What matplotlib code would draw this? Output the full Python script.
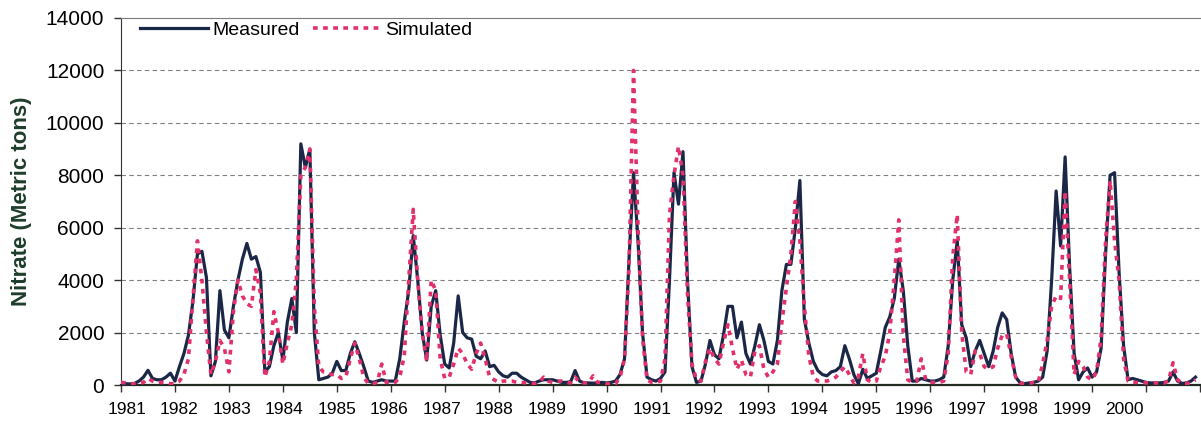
import numpy as np
import matplotlib
matplotlib.use("Agg")
import matplotlib.pyplot as plt

plt.rcParams['font.family'] = ['Liberation Sans', 'DejaVu Sans']

# monthly nitrate loads (metric tons), Jan 1981 .. Dec 2000
years = list(range(1981, 2001))
year_labels = [str(y) for y in years]

measured = [
    50, 50, 40, 60, 150, 300, 560, 250, 200, 200, 300, 450,            # 1981
    150, 700, 1200, 1900, 3200, 5000, 5100, 4100, 350, 900, 3600, 2100,  # 1982
    1800, 3000, 4000, 4800, 5400, 4800, 4900, 4300, 500, 700, 1500, 2000,  # 1983
    950, 2400, 3300, 2000, 9200, 8300, 9000, 2000, 200, 250, 300, 450,   # 1984
    900, 550, 550, 1200, 1650, 1200, 700, 150, 100, 150, 200, 150,       # 1985
    150, 150, 1000, 2400, 3600, 5700, 4000, 2000, 950, 3000, 3600, 1900,  # 1986
    800, 650, 1600, 3400, 2000, 1800, 1750, 1100, 1000, 1300, 700, 750,  # 1987
    500, 350, 300, 450, 450, 300, 200, 100, 80, 150, 200, 200,           # 1988
    200, 150, 100, 100, 120, 550, 150, 80, 80, 70, 80, 100,              # 1989
    80, 100, 150, 400, 1000, 4800, 8100, 5500, 2000, 300, 200, 150,      # 1990
    250, 500, 4000, 8100, 6900, 8900, 4000, 700, 100, 150, 800, 1700,    # 1991
    1150, 1000, 1900, 3000, 3000, 1800, 2400, 1200, 800, 1500, 2300, 1700,  # 1992
    900, 800, 1700, 3600, 4600, 4600, 6000, 7800, 2500, 1600, 900, 550,  # 1993
    400, 350, 500, 550, 700, 1500, 1000, 400, 50, 600, 250, 350,         # 1994
    450, 1300, 2200, 2600, 3300, 4800, 3600, 1500, 150, 150, 250, 200,   # 1995
    150, 150, 200, 300, 1500, 4000, 5500, 2300, 1800, 700, 1300, 1700,   # 1996
    1200, 700, 1300, 2200, 2750, 2500, 1200, 300, 80, 50, 80, 100,       # 1997
    150, 300, 1300, 4000, 7400, 5300, 8700, 4500, 1200, 200, 500, 650,   # 1998
    300, 500, 1400, 5000, 8000, 8100, 4300, 1500, 200, 250, 200, 150,    # 1999
    100, 80, 80, 80, 100, 150, 500, 150, 60, 80, 150, 300,               # 2000
]

simulated = [
    100, 80, 50, 50, 60, 100, 250, 150, 100, 100, 80, 50,                # 1981
    50, 150, 400, 1000, 3300, 5500, 4000, 2000, 400, 900, 1700, 1400,    # 1982
    500, 2800, 4000, 3400, 3100, 3000, 4400, 3500, 300, 900, 2800, 2000,  # 1983
    800, 1600, 2300, 4000, 8000, 8300, 9000, 3000, 700, 500, 450, 400,   # 1984
    400, 250, 300, 1000, 1600, 1000, 300, 50, 50, 100, 800, 100,         # 1985
    100, 100, 300, 1100, 4000, 6700, 4000, 2000, 900, 4000, 3600, 1000,  # 1986
    250, 300, 800, 1400, 1200, 800, 600, 1200, 1600, 1000, 300, 200,     # 1987
    100, 150, 150, 150, 100, 100, 80, 60, 60, 100, 300, 150,             # 1988
    100, 150, 150, 100, 80, 300, 100, 80, 80, 350, 100, 100,             # 1989
    50, 50, 50, 300, 1000, 4500, 12000, 6000, 1800, 200, 100, 100,       # 1990
    150, 1000, 6500, 8000, 9100, 8000, 3500, 800, 200, 150, 900, 1400,   # 1991
    1000, 800, 1600, 2300, 1400, 600, 950, 400, 300, 1300, 1500, 600,    # 1992
    300, 500, 800, 2400, 3700, 5000, 7000, 5500, 3000, 1100, 300, 150,   # 1993
    150, 150, 200, 300, 500, 700, 400, 80, 300, 1200, 200, 100,          # 1994
    150, 700, 1100, 2000, 4000, 6300, 1900, 200, 100, 150, 1000, 200,    # 1995
    100, 100, 100, 150, 1200, 4900, 6500, 2000, 500, 400, 1300, 1200,    # 1996
    700, 600, 700, 1400, 1900, 1950, 1100, 300, 80, 50, 60, 100,         # 1997
    100, 800, 1700, 3000, 3400, 3300, 7400, 4000, 400, 900, 700, 300,    # 1998
    200, 500, 1800, 5500, 7800, 5500, 4000, 1000, 150, 100, 100, 100,    # 1999
    80, 80, 80, 80, 80, 150, 850, 200, 60, 60, 80, 200,                  # 2000
]

t = 1981 + np.arange(len(measured)) / 12.0

fig = plt.figure(figsize=(12.01, 4.23), dpi=100)
ax = fig.add_axes([121 / 1201, 1 - 385 / 423, 1079 / 1201, 367 / 423])

ax.plot(t, measured, color='#1b2747', lw=2.3, label='Measured', zorder=3)
ax.plot(t, simulated, color='#e2306c', lw=2.6, linestyle=(0, (1.3, 1.5)),
        label='Simulated', zorder=4)

ax.set_xlim(1981, 2001)
ax.set_ylim(0, 14000)
ax.set_yticks(np.arange(0, 14001, 2000))
ax.tick_params(axis='y', labelsize=15, length=5, width=1, pad=7, color='#333333')

# year labels sit slightly off the year tick marks, as in the original
ax.set_xticks(np.arange(21) + 1981, minor=True)
ax.set_xticks(1981.11 + np.arange(len(years)) * 0.9731)
ax.set_xticklabels(year_labels)
ax.tick_params(axis='x', which='major', length=0, labelsize=12.5, pad=12)
ax.tick_params(axis='x', which='minor', length=5, width=1, color='#333333')

for y in range(2000, 14000, 2000):
    ax.axhline(y, color='#808080', lw=0.8, linestyle=(0, (4, 3)), zorder=1)

ax.spines['right'].set_visible(False)
ax.spines['top'].set_color('#7a7a7a')
ax.spines['left'].set_color('#333333')
ax.spines['bottom'].set_color('#222a22')
ax.spines['bottom'].set_linewidth(1.6)

ax.set_ylabel('Nitrate (Metric tons)', fontsize=16, fontweight='bold',
              color='#1f3d2b', labelpad=10)

ax.legend(loc='upper left', bbox_to_anchor=(0.018, 0.99), frameon=False,
          ncol=2, fontsize=14, handlelength=3.5, handletextpad=0.2,
          columnspacing=0.7, borderaxespad=0, borderpad=0)

fig.savefig('out.png', dpi=100)
